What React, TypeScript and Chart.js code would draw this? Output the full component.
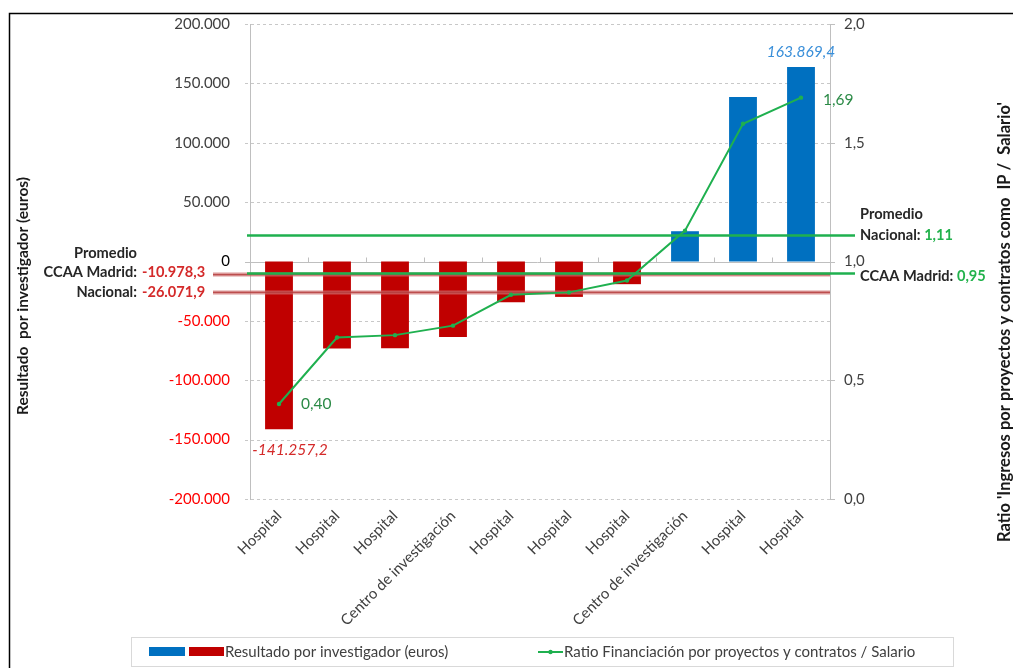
import React, { useEffect, useRef } from "react";
import { Chart, registerables } from "chart.js";

Chart.register(...registerables);

// Centres, ordered by result per researcher
const categories = [
  "Hospital",
  "Hospital",
  "Hospital",
  "Centro de investigación",
  "Hospital",
  "Hospital",
  "Hospital",
  "Centro de investigación",
  "Hospital",
  "Hospital",
];

// Result per researcher (euros)
const resultPerResearcher = [
  -141257.2, -73200, -73000, -63500, -34300, -29800, -19100, 25500, 138600, 163869.4,
];

// Ratio: income from projects and contracts as PI / salary
const fundingRatio = [0.4, 0.68, 0.69, 0.73, 0.86, 0.87, 0.92, 1.13, 1.58, 1.69];

// Axis ticks
const resultTicks = [200000, 150000, 100000, 50000, 0, -50000, -100000, -150000, -200000];
const ratioTicks = [2, 1.5, 1, 0.5, 0];

// Reference averages
const madridAvgResult = -10978.3;
const nationalAvgResult = -26071.9;
const nationalAvgRatio = 1.11;
const madridAvgRatio = 0.95;

const FONT = "Lato, 'Open Sans', sans-serif";
const BLUE = "#0070c0";
const RED = "#c00000";
const GREEN = "#1fb04f";
const TEXT = "#404040";

function fmtEs(v: number, dec: number): string {
  const neg = v < 0;
  const fixed = Math.abs(v).toFixed(dec);
  const [intPart, frac] = fixed.split(".");
  const withDots = intPart.replace(/\B(?=(\d{3})+(?!\d))/g, ".");
  return (neg ? "-" : "") + withDots + (frac ? "," + frac : "");
}

const decorPlugin = {
  id: "decor",
  beforeDatasetsDraw(chart: any) {
    const { ctx, chartArea, scales } = chart;
    const y = scales.y;
    const y1 = scales.y1;
    const x = scales.x;
    ctx.save();
    // dashed horizontal gridlines
    ctx.strokeStyle = "#c8c8c8";
    ctx.lineWidth = 1;
    resultTicks.forEach((t) => {
      if (t === 0) return;
      const py = Math.round(y.getPixelForValue(t)) + 0.5;
      ctx.setLineDash([3, 3]);
      ctx.beginPath();
      ctx.moveTo(chartArea.left - 5, py);
      ctx.lineTo(chartArea.right, py);
      ctx.stroke();
    });
    ctx.setLineDash([]);
    // zero axis with category separators
    const zy = Math.round(y.getPixelForValue(0)) + 0.5;
    ctx.strokeStyle = "#bfbfbf";
    ctx.beginPath();
    ctx.moveTo(chartArea.left - 5, zy);
    ctx.lineTo(chartArea.right, zy);
    ctx.stroke();
    for (let i = 1; i < categories.length; i++) {
      const px = Math.round((x.getPixelForValue(i - 1) + x.getPixelForValue(i)) / 2) + 0.5;
      ctx.beginPath();
      ctx.moveTo(px, zy);
      ctx.lineTo(px, zy - 5);
      ctx.stroke();
    }
    // right axis tick marks
    ratioTicks.forEach((t) => {
      const py = Math.round(y1.getPixelForValue(t)) + 0.5;
      ctx.beginPath();
      ctx.moveTo(chartArea.right, py);
      ctx.lineTo(chartArea.right + 5, py);
      ctx.stroke();
    });
    ctx.restore();
  },
  afterDatasetDraw(chart: any, args: any) {
    if (args.index !== 0) return;
    const { ctx, chartArea, scales } = chart;
    const y = scales.y;
    const y1 = scales.y1;
    ctx.save();
    // red averages (left axis)
    [madridAvgResult, nationalAvgResult].forEach((v) => {
      const py = y.getPixelForValue(v);
      ctx.strokeStyle = "rgba(205,110,110,0.7)";
      ctx.lineWidth = 4;
      ctx.beginPath();
      ctx.moveTo(213, py);
      ctx.lineTo(chartArea.right, py);
      ctx.stroke();
      ctx.strokeStyle = "rgba(180,60,60,0.8)";
      ctx.lineWidth = 1.2;
      ctx.beginPath();
      ctx.moveTo(213, py);
      ctx.lineTo(chartArea.right, py);
      ctx.stroke();
    });
    // green averages (right axis)
    [nationalAvgRatio, madridAvgRatio].forEach((v) => {
      const py = y1.getPixelForValue(v);
      ctx.strokeStyle = GREEN;
      ctx.lineWidth = 2.5;
      ctx.beginPath();
      ctx.moveTo(chartArea.left - 3, py);
      ctx.lineTo(855, py);
      ctx.stroke();
    });
    ctx.restore();
  },
  afterDraw(chart: any) {
    const { ctx, scales } = chart;
    const y = scales.y;
    const y1 = scales.y1;
    const barMeta = chart.getDatasetMeta(0);
    const lineMeta = chart.getDatasetMeta(1);
    ctx.save();

    // value labels on first and last bars
    ctx.font = `italic 15.5px ${FONT}`;
    ctx.textAlign = "center";
    ctx.textBaseline = "middle";
    const first = barMeta.data[0];
    ctx.fillStyle = "#d42a2a";
    ctx.fillText(fmtEs(resultPerResearcher[0], 1), first.x + 11, first.y + 21);
    const lastIdx = resultPerResearcher.length - 1;
    const last = barMeta.data[lastIdx];
    ctx.fillStyle = "#3a8fd9";
    ctx.fillText(fmtEs(resultPerResearcher[lastIdx], 1), last.x, last.y - 15);

    // ratio labels on first and last points
    ctx.font = `15.5px ${FONT}`;
    ctx.textAlign = "left";
    ctx.fillStyle = "#2b8a46";
    const p0 = lineMeta.data[0];
    ctx.fillText(fmtEs(fundingRatio[0], 2), p0.x + 22, p0.y);
    const pl = lineMeta.data[fundingRatio.length - 1];
    ctx.fillText(fmtEs(fundingRatio[fundingRatio.length - 1], 2), pl.x + 22, pl.y + 2);

    // left annotations
    ctx.font = `bold 14.6px ${FONT}`;
    const yM = y.getPixelForValue(madridAvgResult);
    const yN = y.getPixelForValue(nationalAvgResult);
    ctx.textAlign = "right";
    ctx.fillStyle = "#262626";
    ctx.fillText("Promedio", 137, yM - 21);
    ctx.fillText("CCAA Madrid:", 137, yM - 2);
    ctx.fillText("Nacional:", 137, yN);
    ctx.textAlign = "left";
    ctx.fillStyle = "#d42a2a";
    ctx.fillText(fmtEs(madridAvgResult, 1), 142, yM - 2);
    ctx.fillText(fmtEs(nationalAvgResult, 1), 142, yN);

    // right annotations
    const yRN = y1.getPixelForValue(nationalAvgRatio);
    const yRM = y1.getPixelForValue(madridAvgRatio);
    ctx.fillStyle = "#262626";
    ctx.fillText("Promedio", 860, yRN - 21);
    const lblN = "Nacional: ";
    const lblM = "CCAA Madrid: ";
    ctx.fillText(lblN, 860, yRN);
    ctx.fillText(lblM, 860, yRM + 3);
    ctx.fillStyle = "#22b24c";
    ctx.fillText(fmtEs(nationalAvgRatio, 2), 860 + ctx.measureText(lblN).width, yRN);
    ctx.fillText(fmtEs(madridAvgRatio, 2), 860 + ctx.measureText(lblM).width, yRM + 3);

    // axis titles
    ctx.fillStyle = "#1a1a1a";
    ctx.textAlign = "center";
    ctx.save();
    ctx.font = `bold 15.5px ${FONT}`;
    ctx.translate(23, 296);
    ctx.rotate(-Math.PI / 2);
    ctx.fillText("Resultado  por investigador (euros)", 0, 0);
    ctx.restore();
    ctx.save();
    ctx.font = `bold 16.5px ${FONT}`;
    ctx.translate(1005, 322);
    ctx.rotate(-Math.PI / 2);
    ctx.fillText("Ratio 'Ingresos por proyectos y contratos como  IP /  Salario'", 0, 0);
    ctx.restore();

    // legend
    ctx.strokeStyle = "#d9d9d9";
    ctx.lineWidth = 1;
    ctx.strokeRect(131.5, 637.5, 822, 29);
    ctx.fillStyle = BLUE;
    ctx.fillRect(149, 647, 36, 9);
    ctx.fillStyle = RED;
    ctx.fillRect(189, 647, 35, 9);
    ctx.fillStyle = TEXT;
    ctx.font = `15px ${FONT}`;
    ctx.textAlign = "left";
    ctx.fillText("Resultado por investigador (euros)", 225, 652);
    ctx.strokeStyle = GREEN;
    ctx.lineWidth = 2;
    ctx.beginPath();
    ctx.moveTo(538, 652);
    ctx.lineTo(563, 652);
    ctx.stroke();
    ctx.fillStyle = GREEN;
    ctx.beginPath();
    ctx.arc(550.5, 652, 2.2, 0, Math.PI * 2);
    ctx.fill();
    ctx.fillStyle = TEXT;
    ctx.fillText("Ratio Financiación por proyectos y contratos / Salario", 564, 652);

    // frame
    ctx.strokeStyle = "#000000";
    ctx.lineWidth = 1.5;
    ctx.beginPath();
    ctx.moveTo(9.5, 668);
    ctx.lineTo(9.5, 13.5);
    ctx.lineTo(1013, 13.5);
    ctx.stroke();

    ctx.restore();
  },
};

export default function App() {
  const canvasRef = useRef<HTMLCanvasElement | null>(null);

  useEffect(() => {
    document.body.style.margin = "0";
    const canvas = canvasRef.current;
    if (!canvas) return;
    const chart = new Chart(canvas, {
      type: "bar",
      data: {
        labels: categories,
        datasets: [
          {
            type: "bar",
            label: "Resultado por investigador (euros)",
            data: resultPerResearcher,
            backgroundColor: resultPerResearcher.map((v) => (v < 0 ? RED : BLUE)),
            categoryPercentage: 1,
            barPercentage: 0.48,
            yAxisID: "y",
            order: 1,
          },
          {
            type: "line",
            label: "Ratio Financiación por proyectos y contratos / Salario",
            data: fundingRatio,
            borderColor: GREEN,
            backgroundColor: GREEN,
            borderWidth: 2,
            pointRadius: 2.2,
            pointBorderWidth: 0,
            tension: 0,
            yAxisID: "y1",
            order: 0,
          },
        ],
      },
      options: {
        responsive: false,
        animation: false,
        layout: { padding: { top: 24, left: 0, right: 0, bottom: 0 } },
        plugins: {
          legend: { display: false },
          tooltip: { enabled: false },
        },
        scales: {
          x: {
            grid: { display: false, drawTicks: false },
            border: { display: false },
            ticks: {
              autoSkip: false,
              maxRotation: 45,
              minRotation: 45,
              color: TEXT,
              font: { family: FONT, size: 15 },
              padding: 8,
            },
            afterFit: (s: any) => {
              s.height = 169;
              s.paddingLeft = 0;
              s.paddingRight = 0;
            },
          },
          y: {
            position: "left",
            min: -200000,
            max: 200000,
            afterBuildTicks: (s: any) => {
              s.ticks = resultTicks.map((v) => ({ value: v }));
            },
            ticks: {
              callback: (v: any) => fmtEs(Number(v), 0),
              color: (c: any) => (c.tick && c.tick.value < 0 ? "#ff0000" : c.tick && c.tick.value === 0 ? "#000000" : TEXT),
              font: { family: FONT, size: 15 },
              padding: 20,
            },
            grid: { display: false, drawTicks: false },
            border: { display: true, color: "#bfbfbf", width: 1 },
            afterFit: (s: any) => {
              s.width = 250;
              s.paddingTop = 0;
              s.paddingBottom = 0;
            },
          },
          y1: {
            position: "right",
            min: 0,
            max: 2,
            afterBuildTicks: (s: any) => {
              s.ticks = ratioTicks.map((v) => ({ value: v }));
            },
            ticks: {
              callback: (v: any) => fmtEs(Number(v), 1),
              color: TEXT,
              font: { family: FONT, size: 15 },
              padding: 14,
            },
            grid: { display: false, drawTicks: false },
            border: { display: true, color: "#bfbfbf", width: 1 },
            afterFit: (s: any) => {
              s.width = 184;
              s.paddingTop = 0;
              s.paddingBottom = 0;
            },
          },
        },
      },
      plugins: [decorPlugin],
    });
    return () => chart.destroy();
  }, []);

  return (
    <div style={{ position: "absolute", left: 0, top: 0, width: 1014, height: 668, background: "#ffffff" }}>
      <canvas ref={canvasRef} width={1014} height={668} />
    </div>
  );
}
